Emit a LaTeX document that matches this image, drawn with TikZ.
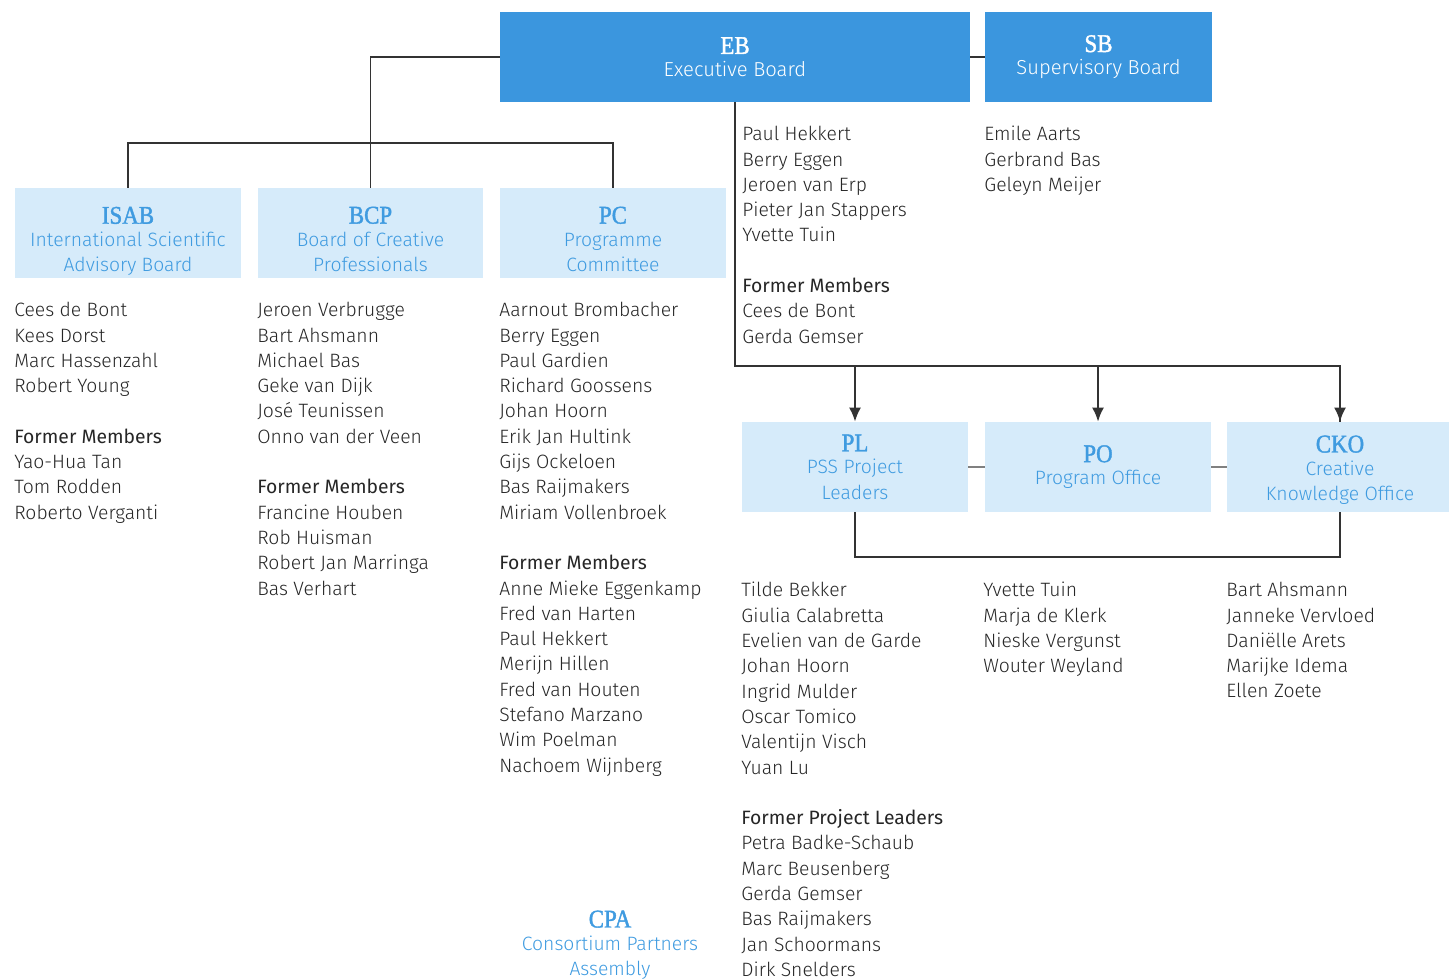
\documentclass[tikz,border=0pt]{standalone}
\usepackage{fontspec}
\setmainfont{Fira Sans Light}
\newfontfamily\headfont{Fira Sans}
\newfontfamily\acrfont{Liberation Serif}[FakeBold=1.5, FakeStretch=0.9]
\usepackage{xcolor}
\usepackage{tikz}
\usetikzlibrary{shapes,arrows,arrows.meta}
\definecolor{ebblue}{HTML}{3B96DE}
\definecolor{unitfill}{HTML}{D6EBFA}
\definecolor{unittext}{HTML}{3F9BE0}
\definecolor{linegray}{HTML}{333333}
\definecolor{namegray}{HTML}{262626}
\newcommand{\acr}[1]{{\acrfont\fontsize{14.5}{14.4}\selectfont #1}\\[-1.5pt]}
\newcommand{\formerhead}[1]{{\headfont #1}}
\newcommand{\lift}[1]{\rule{0pt}{#1}}
\tikzstyle{board} = [rectangle, fill=ebblue, text=white, align=center, minimum height=1.8cm, inner sep=0pt, font=\fontsize{11.5}{14.4}\selectfont]
\tikzstyle{unit} = [rectangle, fill=unitfill, text=unittext, align=center, minimum width=4.52cm, minimum height=1.8cm, inner sep=0pt, font=\fontsize{11}{14.4}\selectfont]
\tikzstyle{members} = [anchor=north west, align=left, inner sep=0pt, text=namegray, font=\fontsize{11}{14.4}\selectfont]
\tikzstyle{line} = [draw=linegray, line width=1.1pt]
\tikzstyle{link} = [line, -{Latex[length=0.28cm, width=0.24cm]}]
\tikzstyle{tie} = [draw=gray, line width=1.1pt]

\begin{document}
\begin{tikzpicture}[x=0.02cm, y=-0.02cm]
\useasboundingbox (0,0) rectangle (1449,979);

% boards
\node [board, minimum width=9.4cm] (eb) at (735,57) {\acr{EB}Executive Board};
\node [board, minimum width=4.54cm] (sb) at (1098.5,57) {\acr{SB}Supervisory Board};
\path [line] (eb.east) -- (sb.west);

% advisory units
\node [unit] (isab) at (128,233) {\acr{\lift{19pt}ISAB}International Scientific\\Advisory Board};
\node [unit] (bcp) at (370.5,233) {\acr{\lift{16.7pt}BCP}Board of Creative\\Professionals};
\node [unit] (pc) at (613,233) {\acr{\lift{16.7pt}PC}Programme\\Committee};
\coordinate (bar) at (370.5,143);
\path [line] (eb.west) -| (bcp.north);
\path [line] (isab.north) |- (bar) -| (pc.north);

% operational units
\node [unit] (pl) at (855,467) {\acr{PL}PSS Project\\Leaders};
\node [unit] (po) at (1098,467) {\acr{PO}Program Office};
\node [unit] (cko) at (1340,467) {\acr{\lift{13pt}CKO}Creative\\Knowledge Office};
\coordinate (split) at (735,366);
\coordinate (loop) at (855,557);
\path [line] (eb.south) -- (split) -| (cko.north);
\path [link] (split) -| (pl.north);
\path [link] (split) -| (po.north);
\path [link] (split) -| (cko.north);
\path [tie] (pl.east) -- (po.west);
\path [tie] (po.east) -- (cko.west);
\path [line] (pl.south) -- (loop) -| (cko.south);

% members
\node [members] (ebm) at (742,126) {Paul Hekkert\\Berry Eggen\\Jeroen van Erp\\Pieter Jan Stappers\\Yvette Tuin\\[14.4pt]\formerhead{Former Members}\\Cees de Bont\\Gerda Gemser};
\node [members] (sbm) at (984,126) {Emile Aarts\\Gerbrand Bas\\Geleyn Meijer};
\node [members] (isabm) at (14,302) {Cees de Bont\\Kees Dorst\\Marc Hassenzahl\\Robert Young\\[14.4pt]\formerhead{Former Members}\\Yao-Hua Tan\\Tom Rodden\\Roberto Verganti};
\node [members] (bcpm) at (257,302) {Jeroen Verbrugge\\Bart Ahsmann\\Michael Bas\\Geke van Dijk\\José Teunissen\\Onno van der Veen\\[14.4pt]\formerhead{Former Members}\\Francine Houben\\Rob Huisman\\Robert Jan Marringa\\Bas Verhart};
\node [members] (pcm) at (499,302) {Aarnout Brombacher\\Berry Eggen\\Paul Gardien\\Richard Goossens\\Johan Hoorn\\Erik Jan Hultink\\Gijs Ockeloen\\Bas Raijmakers\\Miriam Vollenbroek\\[14.4pt]\formerhead{Former Members}\\Anne Mieke Eggenkamp\\Fred van Harten\\Paul Hekkert\\Merijn Hillen\\Fred van Houten\\Stefano Marzano\\Wim Poelman\\Nachoem Wijnberg};
\node [members] (plm) at (741,582) {Tilde Bekker\\Giulia Calabretta\\Evelien van de Garde\\Johan Hoorn\\Ingrid Mulder\\Oscar Tomico\\Valentijn Visch\\Yuan Lu\\[14.4pt]\formerhead{Former Project Leaders}\\Petra Badke-Schaub\\Marc Beusenberg\\Gerda Gemser\\Bas Raijmakers\\Jan Schoormans\\Dirk Snelders};
\node [members] (pom) at (983,582) {Yvette Tuin\\Marja de Klerk\\Nieske Vergunst\\Wouter Weyland};
\node [members] (ckom) at (1226,582) {Bart Ahsmann\\Janneke Vervloed\\Daniëlle Arets\\Marijke Idema\\Ellen Zoete};

% assembly
\node [align=center, text=unittext, inner sep=0pt, font=\fontsize{11}{14.4}\selectfont] (cpa) at (610,945) {\acr{CPA}Consortium Partners\\Assembly};
\end{tikzpicture}
\end{document}
